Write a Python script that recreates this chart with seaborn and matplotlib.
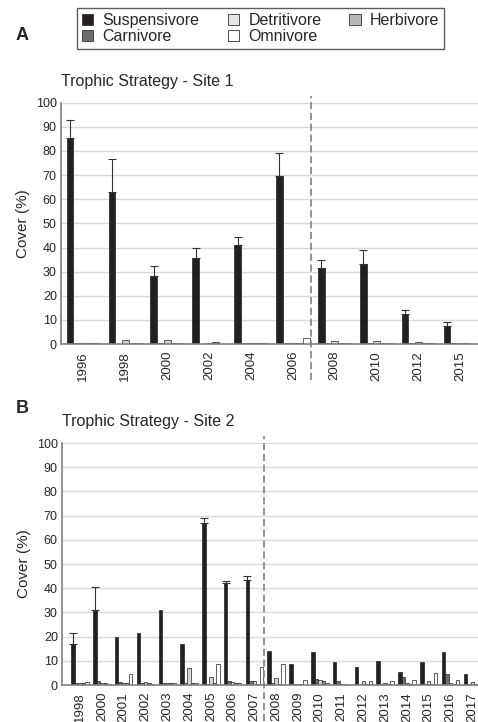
import pandas as pd
import matplotlib.pyplot as plt
import seaborn as sns
from matplotlib.patches import Patch

strategies = ['Suspensivore', 'Carnivore', 'Detritivore', 'Herbivore', 'Omnivore']
bar_colors = ['#231f20', '#6e6e6e', '#d4d4d4', '#8c80b8', '#ffffff']
legend_colors = ['#231f20', '#6e6e6e', '#e6e6e6', '#b8b8b8', '#ffffff']

# Site 1
years_1 = ['1996', '1998', '2000', '2002', '2004', '2006', '2008', '2010', '2012', '2015']
susp_1 = [85.5, 63, 28, 35.5, 41, 69.5, 31.5, 33, 12.5, 7.5]
carn_1 = [0.3, 0.2, 0.5, 0.2, 0.3, 0.3, 0.3, 0.5, 0.5, 0.3]
detr_1 = [0.3, 1.5, 1.5, 0.3, 0.3, 0.5, 1.3, 1.3, 1.0, 0.3]
herb_1 = [0.3, 0.3, 0.3, 1.0, 0.3, 0.3, 0.3, 0.3, 0.3, 0.3]
omni_1 = [0.3, 0.3, 0.5, 0.2, 0.3, 2.5, 0.5, 0.5, 0.5, 0.2]
err_1 = [7.5, 13.5, 4.5, 4.5, 3.5, 9.5, 3.5, 6, 1.5, 1.5]

# Site 2
years_2 = ['1998', '2000', '2001', '2002', '2003', '2004', '2005', '2006', '2007', '2008',
           '2009', '2010', '2011', '2012', '2013', '2014', '2015', '2016', '2017']
susp_2 = [17, 31, 20, 21.5, 31, 17, 67, 42, 43.5, 14, 8.5, 13.5, 9.5, 7.5, 10, 5.5, 9.5, 13.5, 4.5]
carn_2 = [0.7, 1.5, 1.2, 0.7, 1.0, 0.7, 0.3, 1.5, 1.5, 1.0, 0.5, 2.5, 1.5, 0.0, 0.5, 3.2, 0.5, 4.5, 0.5]
detr_2 = [0.7, 0.7, 0.7, 1.2, 0.7, 7.0, 3.5, 1.2, 1.5, 3.0, 0.5, 2.0, 0.5, 1.5, 1.0, 1.0, 1.5, 1.0, 1.2]
herb_2 = [0.7, 0.7, 0.7, 0.7, 0.7, 0.7, 0.7, 1.0, 0.5, 0.5, 0.5, 1.5, 0.5, 0.5, 0.5, 0.5, 0.5, 0.5, 0.5]
omni_2 = [1.2, 0.3, 4.5, 0.3, 0.7, 0.7, 8.5, 1.0, 7.5, 8.5, 2.0, 1.0, 0.0, 1.5, 1.5, 2.0, 5.0, 2.0, 0.5]
err_2 = [4.5, 9.5, 0, 0, 0, 0, 2, 1, 1.5, 0, 0, 0, 0, 0, 0, 0, 0, 0, 0]


def long_form(years, susp, carn, detr, herb, omni):
    rows = []
    for vals, name in zip([susp, carn, detr, herb, omni], strategies):
        for y, v in zip(years, vals):
            rows.append({'Year': y, 'Strategy': name, 'Cover': v})
    return pd.DataFrame(rows)


df1 = long_form(years_1, susp_1, carn_1, detr_1, herb_1, omni_1)
df2 = long_form(years_2, susp_2, carn_2, detr_2, herb_2, omni_2)

sns.set_style('white')
plt.rcParams['font.family'] = ['Liberation Sans', 'DejaVu Sans']

fig = plt.figure(figsize=(4.78, 7.22), dpi=100)
ax1 = fig.add_axes([61 / 478, 0.5235, 417 / 478, 0.3342])
ax2 = fig.add_axes([62 / 478, 0.0512, 416 / 478, 0.3352])


def draw(ax, df, years, err, title, split, xlim):
    ax.set_axisbelow(True)
    ax.yaxis.grid(True, color='#d9d9d9', linewidth=1)
    sns.barplot(data=df, x='Year', y='Cover', hue='Strategy', order=years,
                hue_order=strategies, palette=bar_colors, width=0.8,
                edgecolor='#222222', linewidth=0.5, legend=False, ax=ax)
    bars = ax.containers[0]
    xs, ys, es = [], [], []
    for b, e in zip(bars, err):
        if e > 0:
            xs.append(b.get_x() + b.get_width() / 2)
            ys.append(b.get_height())
            es.append(e)
    ax.errorbar(xs, ys, yerr=[[0] * len(es), es], fmt='none', ecolor='#333333',
                elinewidth=0.8, capsize=3, capthick=0.8)
    ax.axvline(split, ymin=-0.15, ymax=1.03, color='#8a8a8a', linestyle=(0, (4, 2)),
               linewidth=1.3, clip_on=False)
    ax.set_ylim(0, 100)
    ax.set_xlim(*xlim)
    ax.set_yticks(range(0, 101, 10))
    ax.set_xlabel('')
    ax.set_ylabel('Cover (%)', fontsize=11, labelpad=4)
    ax.tick_params(axis='x', rotation=90, labelsize=9.5, length=0, pad=5)
    ax.tick_params(axis='y', labelsize=9, length=0, pad=3)
    ax.set_title(title, loc='left', fontsize=11.5, x=0.0, pad=12)
    for s in ['top', 'right']:
        ax.spines[s].set_visible(False)
    for s in ['left', 'bottom']:
        ax.spines[s].set_color('#7f7f7f')
        ax.spines[s].set_linewidth(1.2)


draw(ax1, df1, years_1, err_1, 'Trophic Strategy - Site 1', 5.43, (-0.535, 9.42))
draw(ax2, df2, years_2, err_2, 'Trophic Strategy - Site 2', 8.44, (-0.83, 18.26))

handles = [Patch(facecolor=c, edgecolor='#333333', linewidth=0.6) for c in legend_colors]
order = [0, 1, 2, 4, 3]
leg = fig.legend([handles[i] for i in order], [strategies[i] for i in order],
                 ncol=3, loc='upper left', bbox_to_anchor=(77 / 478, 1 - 8 / 722),
                 borderaxespad=0, frameon=True, fancybox=False, fontsize=11.5,
                 handlelength=0.7, handleheight=0.7, handletextpad=0.6,
                 columnspacing=1.75, labelspacing=0.1, borderpad=0.3)
leg.get_frame().set_edgecolor('#333333')
leg.get_frame().set_linewidth(1.0)

fig.text(16 / 478, 1 - 35 / 722, 'A', fontsize=13, fontweight='bold', va='center')
fig.text(16 / 478, 1 - 408 / 722, 'B', fontsize=13, fontweight='bold', va='center')

fig.savefig('out.png', dpi=100)
